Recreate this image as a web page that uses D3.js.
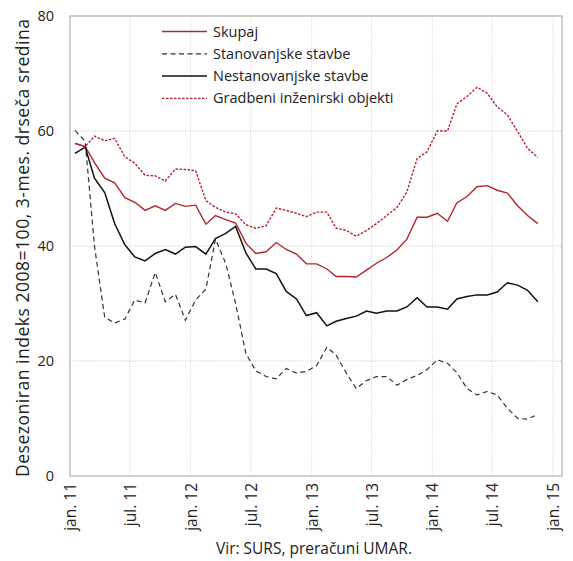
<!DOCTYPE html>
<html>
<head>
<meta charset="utf-8">
<script src="https://cdn.jsdelivr.net/npm/d3@7"></script>
<style>
  body { margin: 0; background: #fff; }
  svg { font-family: "Open Sans", "Liberation Sans", sans-serif; }
</style>
</head>
<body>
<svg id="chart" width="573" height="561"></svg>
<script>
// monthly points, jan 2011 - nov 2014
const startMonth = new Date(2011, 0, 1);
const skupaj = [57.9, 57.3, 54.5, 51.8, 51.0, 48.4, 47.6, 46.2, 47.0, 46.2, 47.4, 46.9,
  47.1, 43.8, 45.3, 44.6, 44.0, 40.5, 38.7, 39.0, 40.6, 39.4, 38.6, 36.9,
  36.9, 36.0, 34.7, 34.7, 34.6, 35.8, 37.0, 38.0, 39.3, 41.2, 45.0, 45.0,
  45.7, 44.3, 47.5, 48.6, 50.3, 50.5, 49.7, 49.2, 47.0, 45.3, 43.9];
const stanovanjske = [60.1, 58.2, 40.0, 27.6, 26.6, 27.3, 30.6, 30.1, 35.4, 30.3, 31.6, 27.1,
  30.6, 32.5, 41.2, 37.0, 30.0, 21.3, 18.3, 17.3, 16.9, 18.7, 17.9, 18.2,
  19.2, 22.4, 21.0, 17.9, 15.2, 16.6, 17.3, 17.3, 15.8, 16.8, 17.5, 18.5,
  20.2, 19.6, 18.0, 15.2, 14.1, 14.7, 14.1, 11.8, 10.0, 9.9, 10.7];
const nestanovanjske = [56.1, 57.2, 51.8, 49.3, 43.9, 40.2, 38.1, 37.4, 38.7, 39.4, 38.6, 39.8,
  39.9, 38.6, 41.3, 42.2, 43.4, 38.8, 36.0, 36.0, 35.2, 32.1, 30.8, 27.9,
  28.4, 26.1, 26.9, 27.4, 27.8, 28.7, 28.3, 28.7, 28.7, 29.4, 31.0, 29.4,
  29.4, 29.0, 30.8, 31.2, 31.5, 31.5, 32.0, 33.6, 33.2, 32.3, 30.3];
const gradbeni = [57.8, 57.3, 59.1, 58.3, 58.7, 55.5, 54.4, 52.3, 52.2, 51.3, 53.4, 53.3,
  53.1, 47.9, 46.7, 45.9, 45.6, 43.7, 43.1, 43.5, 46.6, 46.2, 45.7, 45.1,
  45.9, 45.9, 43.1, 42.7, 41.7, 42.7, 43.9, 45.3, 46.7, 49.4, 55.2, 56.4,
  60.0, 60.0, 64.7, 66.0, 67.6, 66.6, 64.2, 62.8, 59.9, 57.0, 55.4];
const seriesNames = ["Skupaj", "Stanovanjske stavbe", "Nestanovanjske stavbe", "Gradbeni inženirski objekti"];
const yTicks = [0, 20, 40, 60, 80];
const monthNames = ["jan.", "feb.", "mar.", "apr.", "maj", "jun.", "jul.", "avg.", "sep.", "okt.", "nov.", "dec."];

const svg = d3.select("#chart");
const m = {left: 70, right: 562, top: 16, bottom: 476};

const x = d3.scaleTime()
  .domain([new Date(2011, 0, 1), new Date(2015, 0, 1)])
  .range([m.left, 553]);
const y = d3.scaleLinear().domain([0, 80]).range([m.bottom, m.top]);

const dates = skupaj.map((d, i) => d3.timeDay.offset(d3.timeMonth.offset(startMonth, i), 15));

const series = [
  {name: seriesNames[0], values: skupaj, color: "#b3262b", dash: null, width: 1.4},
  {name: seriesNames[1], values: stanovanjske, color: "#333", dash: "5,3.5", width: 1.2},
  {name: seriesNames[2], values: nestanovanjske, color: "#111", dash: null, width: 1.5},
  {name: seriesNames[3], values: gradbeni, color: "#b3262b", dash: "2.5,1.5", width: 1.4}
];

// grid
const xTicks = d3.timeMonth.every(6).range(new Date(2011, 0, 1), new Date(2015, 0, 2));
svg.append("g").selectAll("line").data(yTicks.slice(1, -1)).join("line")
  .attr("x1", m.left).attr("x2", m.right)
  .attr("y1", d => y(d)).attr("y2", d => y(d))
  .attr("stroke", "#c4c4c4").attr("stroke-dasharray", "1,1.5");
svg.append("g").selectAll("line").data(xTicks.slice(1)).join("line")
  .attr("x1", d => x(d)).attr("x2", d => x(d))
  .attr("y1", m.top).attr("y2", m.bottom)
  .attr("stroke", "#d0d0d0").attr("stroke-dasharray", "1,1.5");

// frame
svg.append("rect")
  .attr("x", m.left).attr("y", m.top).attr("width", m.right - m.left).attr("height", m.bottom - m.top)
  .attr("fill", "none").attr("stroke", "#c0c0c0").attr("stroke-width", 1.5);

// y axis labels
svg.append("g").selectAll("text").data(yTicks).join("text")
  .attr("x", 54).attr("y", d => y(d)).attr("dy", "0.35em")
  .attr("text-anchor", "end").attr("font-size", 14.5).attr("fill", "#222")
  .text(d => d);

// x axis labels
svg.append("g").selectAll("text").data(xTicks).join("text")
  .attr("transform", d => `translate(${x(d) + 6},483) rotate(-90)`)
  .attr("text-anchor", "end").attr("font-size", 15.5).attr("fill", "#222")
  .text(d => monthNames[d.getMonth()] + " " + String(d.getFullYear()).slice(2));

// lines
const line = d3.line().x((d, i) => x(dates[i])).y(d => y(d));
svg.append("g").selectAll("path").data(series).join("path")
  .attr("d", d => line(d.values))
  .attr("fill", "none")
  .attr("stroke", d => d.color)
  .attr("stroke-width", d => d.width)
  .attr("stroke-dasharray", d => d.dash);

// legend
const lg = svg.append("g").selectAll("g").data(series).join("g")
  .attr("transform", (d, i) => `translate(162,${31.5 + i * 22.3})`);
lg.append("line").attr("x1", 0).attr("x2", 45)
  .attr("stroke", d => d.color).attr("stroke-width", d => d.width)
  .attr("stroke-dasharray", d => d.dash);
lg.append("text").attr("x", 51).attr("dy", "0.35em")
  .attr("font-size", 14.5).attr("fill", "#222")
  .text(d => d.name);

// axis title
svg.append("text")
  .attr("transform", `translate(29,${(m.top + m.bottom) / 2 + 2}) rotate(-90)`)
  .attr("text-anchor", "middle").attr("font-size", 17.5).attr("fill", "#222")
  .attr("textLength", 458).attr("lengthAdjust", "spacing")
  .text("Desezoniran indeks 2008=100, 3-mes. drseča sredina");

// source
svg.append("text")
  .attr("x", 314).attr("y", 554).attr("text-anchor", "middle")
  .attr("font-size", 15.5).attr("fill", "#222")
  .text("Vir: SURS, preračuni UMAR.");
</script>
</body>
</html>
